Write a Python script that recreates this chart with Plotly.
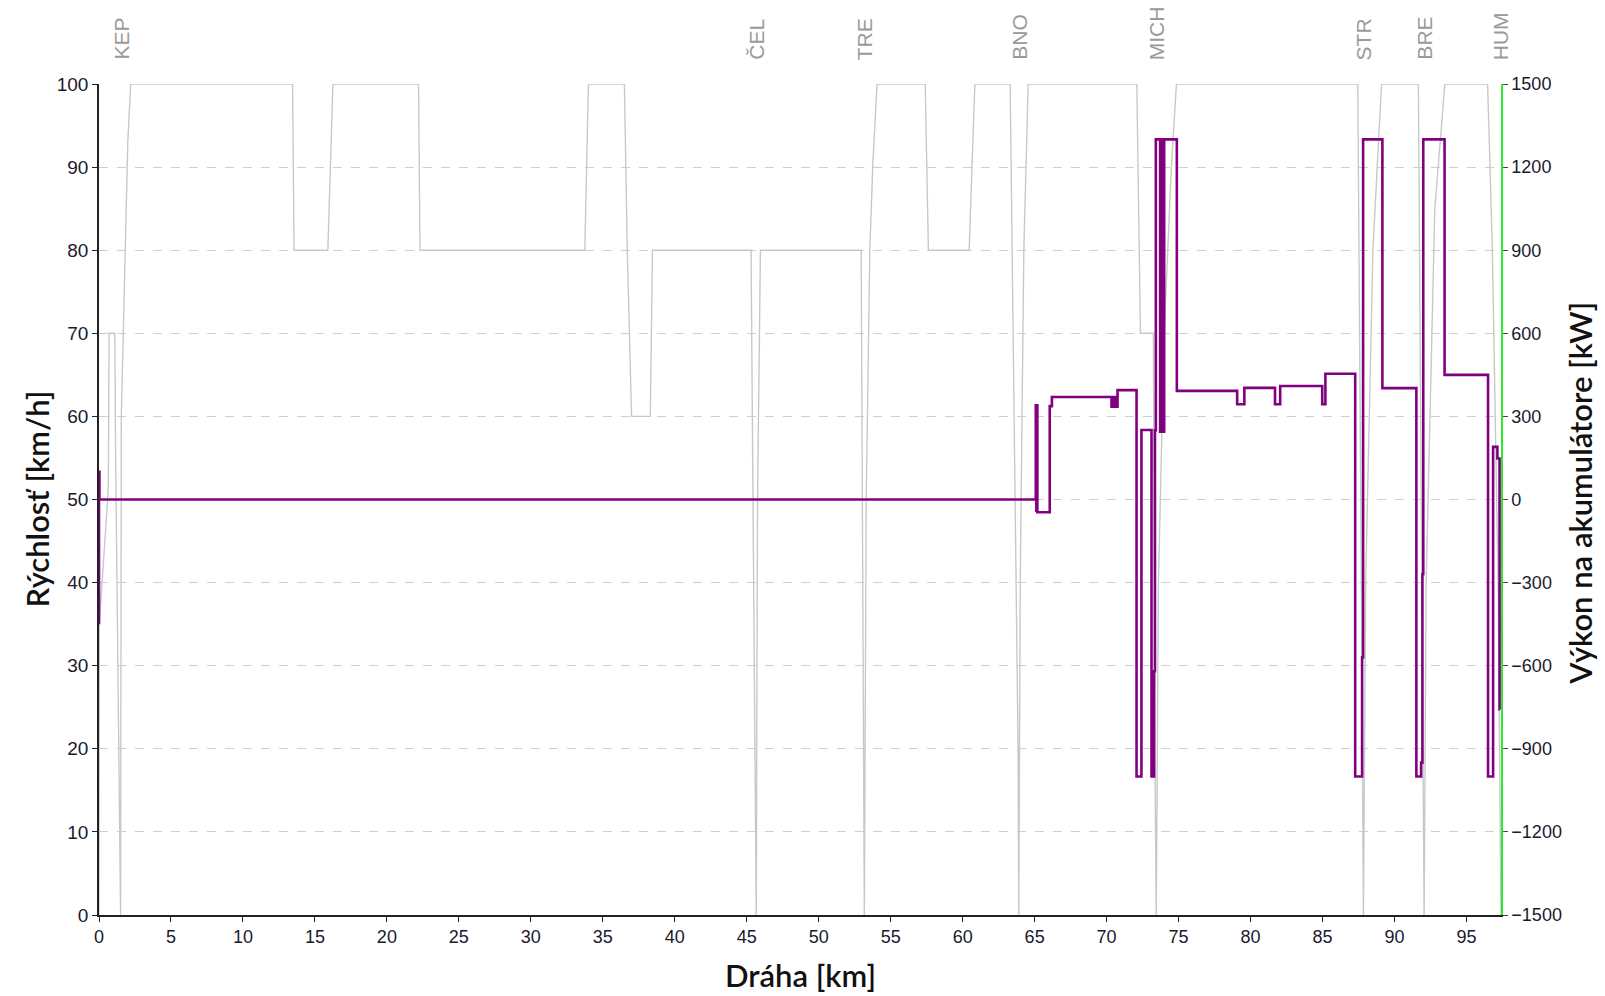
import plotly.graph_objects as go

# Speed profile along the route [km, km/h]
speed_km = [0, 0.02, 0.6, 0.65, 0.7, 1.1, 1.15, 1.3, 1.5, 1.55, 1.75, 2.0, 2.2,
            13.45, 13.55, 15.9, 16.25,
            22.2, 22.3,
            33.75, 34.0,
            36.5, 36.7, 37.0, 38.3, 38.45,
            45.3, 45.6, 45.66, 45.75, 45.95,
            52.95, 53.1, 53.17, 53.3, 53.55, 53.75, 54.05,
            57.4, 57.62, 60.45, 60.85,
            63.3, 63.6, 63.85, 63.9, 64.0, 64.25, 64.55,
            72.1, 72.35, 73.25, 73.35, 73.45, 73.6, 74.0, 74.5, 74.85,
            87.45, 87.7, 87.84, 88.0, 88.5, 89.1,
            91.66, 91.9, 92.06, 92.2, 92.8, 93.5,
            96.47, 96.8, 97.0, 97.2, 97.4]
speed_kmh = [0, 35, 50, 52, 70, 70, 56, 29, 0, 60, 75, 93, 100,
             100, 80, 80, 100,
             100, 80,
             80, 100,
             100, 80, 60, 60, 80,
             80, 11, 0, 50, 80,
             80, 20, 0, 50, 80, 90, 100,
             100, 80, 80, 100,
             100, 60, 20, 0, 40, 80, 100,
             100, 70, 70, 20, 0, 40, 70, 90, 100,
             100, 40, 0, 40, 80, 100,
             100, 40, 0, 40, 85, 100,
             100, 80, 60, 40, 0]

# Battery power, piecewise constant (value holds until the next breakpoint) [km, kW]
power_km = [0, 0, 0.03,
            65.08, 65.12, 65.15, 65.19, 66.05, 66.2,
            70.34, 70.45, 70.5, 70.6, 70.65, 70.76,
            72.08, 72.42, 73.12, 73.3, 73.36, 73.42,
            73.72, 73.8, 73.86, 74.0, 74.88,
            79.07, 79.57, 81.7, 82.06, 84.98, 85.2,
            87.27, 87.75, 87.82, 89.16,
            91.52, 91.85, 91.94, 92.0, 93.48,
            96.5, 96.85, 97.15, 97.3, 97.32]
power_kw = [-450, 100, 0,
            340, -40, 340, -46, 337, 370,
            335, 370, 335, 370, 335, 395,
            -1000, 251, -1000, -620, 250, 1300,
            245, 1300, 245, 1300, 392,
            344, 403, 344, 410, 344, 454,
            -1000, -570, 1300, 402,
            -1000, -950, -270, 1300, 450,
            -1000, 190, 148, -758, -758]

# Stations
station_names = ["KEP", "ČEL", "TRE", "BNO", "MICH", "STR", "BRE", "HUM"]
station_km = [1.5, 45.66, 53.17, 63.9, 73.45, 87.84, 92.06, 97.35]

x_ticks = list(range(0, 100, 5))
speed_ticks = list(range(0, 101, 10))
power_ticks = list(range(-1500, 1501, 300))

left_tick_font = dict(family="Liberation Sans", size=19, color="#1a1a2e")
tick_font = dict(family="Liberation Sans", size=18, color="#1a1a2e")
title_font = dict(family="Lato", size=31, color="#111111", weight=600)

fig = go.Figure()

fig.add_trace(go.Scatter(
    x=speed_km, y=speed_kmh, mode="lines",
    line=dict(color="#c8c8c8", width=1.4),
    yaxis="y", showlegend=False, hoverinfo="skip",
))

fig.add_trace(go.Scatter(
    x=power_km, y=power_kw, mode="lines", line_shape="hv",
    line=dict(color="#800080", width=2.6),
    yaxis="y2", showlegend=False, hoverinfo="skip",
))

for name, km in zip(station_names, station_km):
    fig.add_annotation(
        x=km, xref="x", y=1, yref="paper", yshift=22,
        text=name, showarrow=False, textangle=-90,
        xanchor="center", yanchor="bottom",
        font=dict(family="Liberation Sans", size=21, color="#9a9a9a"),
    )

# Axis titles
fig.add_annotation(x=0, xref="paper", y=0.5, yref="paper", xshift=-63,
                   text="Rýchlosť [km/h]", showarrow=False, textangle=-90,
                   xanchor="center", yanchor="middle", font=title_font)
fig.add_annotation(x=0.5, xref="paper", y=0, yref="paper", yshift=-60,
                   text="Dráha [km]", showarrow=False,
                   xanchor="center", yanchor="middle", font=title_font)
fig.add_annotation(x=1, xref="paper", y=0.507, yref="paper", xshift=79,
                   text="Výkon na akumulátore [kW]", showarrow=False, textangle=-90,
                   xanchor="center", yanchor="middle", font=title_font)

fig.update_layout(
    width=1605, height=996,
    margin=dict(l=99, r=104, t=84, b=81, autoexpand=False),
    paper_bgcolor="white", plot_bgcolor="white",
    xaxis=dict(
        range=[0, 97.4], tickvals=x_ticks, ticks="outside", ticklen=5,
        tickcolor="#222", showline=True, linecolor="#222", linewidth=1.5,
        showgrid=False, zeroline=False, tickfont=tick_font,
    ),
    yaxis=dict(
        range=[0, 100], tickvals=speed_ticks, ticks="outside", ticklen=5,
        tickcolor="#222", showline=True, linecolor="#222", linewidth=1.5,
        showgrid=True, gridcolor="#cfcfcf", griddash="dash", gridwidth=1,
        zeroline=False, tickfont=left_tick_font,
    ),
    yaxis2=dict(
        range=[-1500, 1500], tickvals=power_ticks, overlaying="y", side="right",
        ticks="outside", ticklen=5, tickcolor="#444",
        showline=True, linecolor="#2ee82e", linewidth=1.5,
        showgrid=False, zeroline=False, tickfont=tick_font,
    ),
)

fig.write_html("out.html")
